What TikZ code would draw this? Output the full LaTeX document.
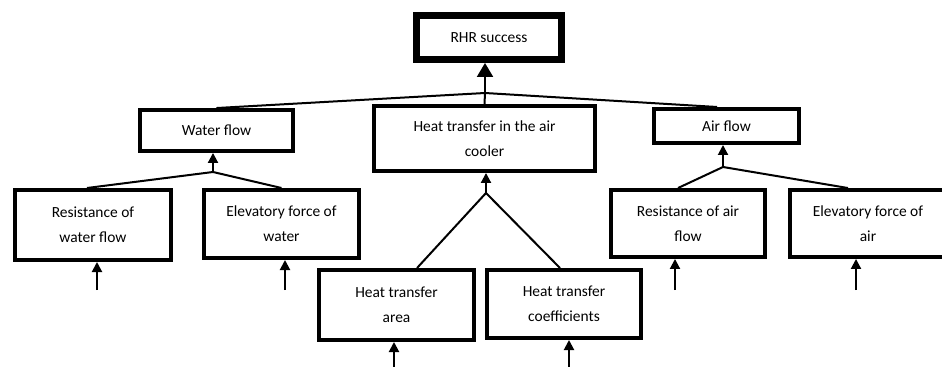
\documentclass[tikz,border=0pt]{standalone}
\usepackage{fontspec}
\setmainfont{Carlito}
\usetikzlibrary{arrows.meta}

\tikzset{
  evbox/.style={draw, line width=3.2pt, align=center, inner sep=0pt},
  topbox/.style={draw, line width=5pt, align=center, inner sep=0pt},
  link/.style={line width=1.5pt},
  smallarrow/.style={line width=1.5pt, -{Triangle[length=7.5pt,width=7.5pt]}},
  bigarrow/.style={line width=1.5pt, -{Triangle[length=10.5pt,width=12pt]}}
}

\begin{document}
\begin{tikzpicture}[x=0.75pt,y=0.75pt,yscale=-1,xscale=1,font=\fontsize{11.6}{18.75}\selectfont]
\useasboundingbox (0,0) rectangle (942,367);

% Boxes
\node [topbox, minimum width=109pt, minimum height=33.2pt] (rhr) at (489,37.5) {RHR success};
\node [evbox, minimum width=165.5pt, minimum height=48.5pt] (cooler) at (484.5,138.5) {Heat transfer in the air\\cooler};
\node [evbox, minimum width=114.5pt, minimum height=30.5pt] (water) at (216.5,130.5) {Water flow};
\node [evbox, minimum width=108.5pt, minimum height=25.3pt] (air) at (726.5,126) {Air flow};
\node [evbox, minimum width=116.8pt, minimum height=52.3pt] (reswater) at (93,225) {Resistance of\\water flow};
\node [evbox, minimum width=116pt, minimum height=50.8pt] (elevwater) at (281.5,224) {Elevatory force of\\water};
\node [evbox, minimum width=116pt, minimum height=52.3pt] (area) at (396.5,305) {Heat transfer\\area};
\node [evbox, minimum width=115.3pt, minimum height=50.8pt] (coeff) at (564,304) {Heat transfer\\coefficients};
\node [evbox, minimum width=115.3pt, minimum height=50pt] (resair) at (688,223.5) {Resistance of air\\flow};
\node [evbox, minimum width=116.8pt, minimum height=50pt] (elevair) at (868,223.5) {Elevatory force of\\air};

% Junctions
\coordinate (j0) at (485,93);
\coordinate (j1) at (213,172);
\coordinate (j2) at (486,193);
\coordinate (j3) at (723,167);

% Inputs
\coordinate (in1) at (97,290);
\coordinate (in2) at (285,290);
\coordinate (in3) at (394,367);
\coordinate (in4) at (569,367);
\coordinate (in5) at (675,290);
\coordinate (in6) at (856,290);

% Top level
\draw [link] (cooler.north) -- (j0);
\draw [link] (water.north) -- (j0) -- ([xshift=-7pt]air.north);
\draw [bigarrow] (j0) -- (j0 |- rhr.south);

% Water flow
\draw [link] ([xshift=-4.5pt]reswater.north) -- (j1) -- (elevwater.north);
\draw [smallarrow] (j1) -- (j1 |- water.south);

% Air cooler
\draw [link] ([xshift=15.4pt]area.north) -- (j2) -- ([xshift=-3pt]coeff.north);
\draw [smallarrow] (j2) -- (j2 |- cooler.south);

% Air flow
\draw [link] ([xshift=-7.5pt]resair.north) -- (j3) -- ([xshift=-15pt]elevair.north);
\draw [smallarrow] (j3) -- (j3 |- air.south);

% Inputs
\draw [smallarrow] (in1) -- (in1 |- reswater.south);
\draw [smallarrow] (in2) -- (in2 |- elevwater.south);
\draw [smallarrow] (in3) -- (in3 |- area.south);
\draw [smallarrow] (in4) -- (in4 |- coeff.south);
\draw [smallarrow] (in5) -- (in5 |- resair.south);
\draw [smallarrow] (in6) -- (in6 |- elevair.south);

\end{tikzpicture}
\end{document}
